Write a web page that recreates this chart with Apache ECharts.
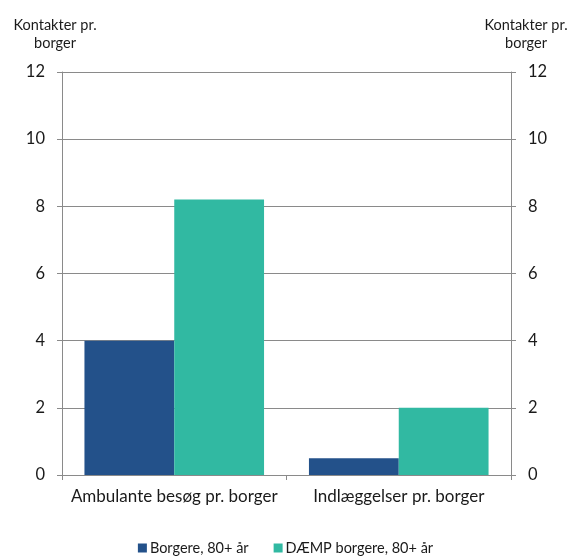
<!DOCTYPE html>
<html>
<head>
<meta charset="utf-8">
<script src="https://cdn.jsdelivr.net/npm/echarts@6/dist/echarts.min.js"></script>
<style>
  html, body { margin: 0; padding: 0; background: #ffffff; }
  #chart { width: 571px; height: 559px; }
</style>
</head>
<body>
<div id="chart"></div>
<script>
// Contacts per citizen, aged 80+
const categories = ['Ambulante besøg pr. borger', 'Indlæggelser pr. borger'];
const seriesNames = ['Borgere, 80+ år', 'DÆMP borgere, 80+ år'];
const borgere = [4.0, 0.5];
const daempBorgere = [8.2, 2.0];
const axisTitle = 'Kontakter pr.\nborger';

const FONT = 'Lato, "Open Sans", sans-serif';
const GRAY = '#8a8a8a';
const TEXT = '#1a1a1a';

const chart = echarts.init(document.getElementById('chart'), null, { renderer: 'canvas' });

function valueAxis(position, shiftPadding) {
  return {
    type: 'value',
    position: position,
    min: 0,
    max: 12,
    interval: 2,
    name: axisTitle,
    nameLocation: 'end',
    nameGap: 20,
    nameTextStyle: {
      fontFamily: FONT,
      fontSize: 14.5,
      color: TEXT,
      lineHeight: 18,
      align: 'center',
      padding: shiftPadding
    },
    axisLine: { show: true, lineStyle: { color: GRAY, width: 1 } },
    axisTick: { show: true, length: 5, lineStyle: { color: GRAY, width: 1 } },
    axisLabel: { fontFamily: FONT, fontSize: 16.5, color: TEXT, margin: 17 },
    splitLine: { show: position === 'left', lineStyle: { color: GRAY, width: 1 } }
  };
}

chart.setOption({
  animation: false,
  grid: { left: 62, right: 60, top: 72, bottom: 84, containLabel: false },
  legend: {
    data: seriesNames,
    top: 535,
    left: 'center',
    itemWidth: 9,
    itemHeight: 9,
    itemGap: 25,
    icon: 'rect',
    textStyle: { fontFamily: FONT, fontSize: 14.5, lineHeight: 16, color: TEXT, padding: [0, 0, 0, -2] }
  },
  xAxis: {
    type: 'category',
    data: categories,
    axisLine: { show: true, lineStyle: { color: GRAY, width: 1 } },
    axisTick: { show: true, length: 5, alignWithLabel: false, lineStyle: { color: GRAY } },
    axisLabel: { interval: 0, fontFamily: FONT, fontSize: 17, color: TEXT, margin: 13 }
  },
  yAxis: [
    valueAxis('left', [0, 14, 0, 0]),
    valueAxis('right', [0, 0, 0, 30])
  ],
  series: [
    {
      name: seriesNames[0],
      type: 'bar',
      data: borgere,
      barGap: '0%',
      barCategoryGap: '20%',
      itemStyle: { color: '#23518a' }
    },
    {
      name: seriesNames[1],
      type: 'bar',
      data: daempBorgere,
      barGap: '0%',
      barCategoryGap: '20%',
      itemStyle: { color: '#31b9a2' }
    }
  ]
});
</script>
</body>
</html>
